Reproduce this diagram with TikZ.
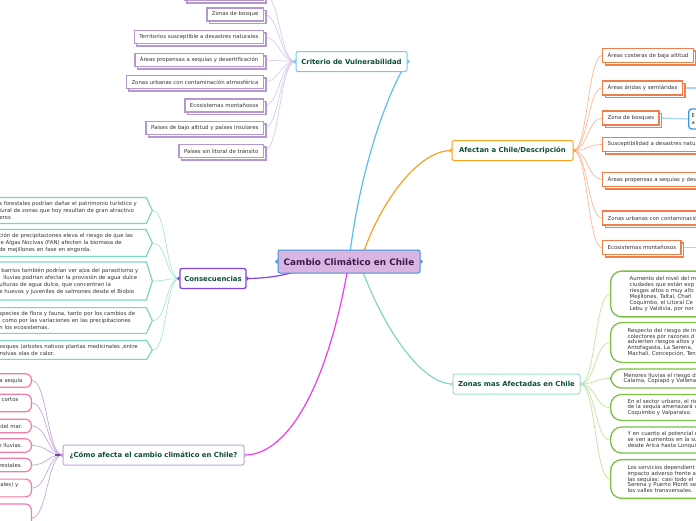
\documentclass[tikz,border=0pt]{standalone}
\usepackage{fontspec}
\setmainfont{DejaVu Sans}
\usetikzlibrary{shadows,shapes.symbols,backgrounds}

\definecolor{hubfill}{HTML}{D9B6E1}
\definecolor{hubline}{HTML}{3F92D8}
\definecolor{hubtext}{HTML}{3A1B4C}
\definecolor{headtext}{HTML}{0D4B3A}
\definecolor{leaftext}{HTML}{363636}
\definecolor{critline}{HTML}{5CC0EB}
\definecolor{critbox}{HTML}{72C9EC}
\definecolor{afecline}{HTML}{F7A21F}
\definecolor{conseline}{HTML}{7F45E2}
\definecolor{comoline}{HTML}{EC3CEF}
\definecolor{comobox}{HTML}{C4A5DB}
\definecolor{zonaline}{HTML}{85D5C7}
\definecolor{zonabox}{HTML}{A2DFD5}
\definecolor{leafpurple}{HTML}{B797D1}
\definecolor{twigpurple}{HTML}{DACBEA}
\definecolor{leaforange}{HTML}{F07D4C}
\definecolor{twigorange}{HTML}{F9B899}
\definecolor{leafblue}{HTML}{3A9BDC}
\definecolor{twigblue}{HTML}{A9D9F2}
\definecolor{leafteal}{HTML}{7ED3C5}
\definecolor{twigteal}{HTML}{AEE3DA}
\definecolor{leafpink}{HTML}{F27BA9}
\definecolor{twigpink}{HTML}{C6A8DD}
\definecolor{stubpurple}{HTML}{7A3E9E}
\definecolor{leafgreen}{HTML}{7BC143}
\definecolor{twiggreen}{HTML}{C2E2A1}

\tikzset{
  hub/.style={draw=hubline, fill=hubfill, line width=1pt, rounded corners=2pt,
    text=hubtext, font=\bfseries\fontsize{8.9}{10}\selectfont,
    minimum width=142pt, minimum height=23pt},
  head/.style={draw=#1, fill=white, line width=1pt, rounded corners=2pt,
    text=headtext, font=\bfseries\fontsize{6.9}{8}\selectfont,
    minimum height=20pt, inner xsep=4pt},
  limb/.style={draw=#1, line width=1.2pt},
  twig/.style={draw=#1, line width=0.7pt},
  boxleaf/.style={draw=#1, fill=white, line width=1.2pt, text=leaftext,
    font=\fontsize{5.4}{6.5}\selectfont, minimum height=13pt, inner xsep=5pt,
    inner ysep=1pt,
    copy shadow={shadow xshift=2.5pt, shadow yshift=-2.5pt, draw=#1, fill=white}},
  arrowleaf/.style={shape=signal, signal to=east, signal pointer angle=130,
    draw=leafteal, fill=white, line width=1.2pt, text=leaftext,
    font=\fontsize{5.4}{7}\selectfont, text width=145pt, align=left,
    inner xsep=2pt, inner ysep=3.8pt},
  pillleaf/.style={draw=leafpink, fill=white, line width=1.2pt,
    rounded corners=6pt, text=leaftext, font=\fontsize{5.4}{7}\selectfont,
    text width=60pt, align=right, inner xsep=9pt, minimum height=13.5pt},
  roundleaf/.style={draw=leafgreen, fill=white, line width=1.3pt,
    rounded corners=11pt, text=leaftext, font=\fontsize{5.4}{5.9}\selectfont,
    text width=110pt, align=left, inner xsep=17pt, inner ysep=5.5pt},
  bluebox/.style={draw=leafblue, fill=white, line width=1.3pt,
    rounded corners=3pt, text=leaftext, font=\fontsize{5.4}{7}\selectfont,
    text width=30pt, align=left, inner xsep=3pt, minimum height=20pt}
}

% little pointers on the sides of a topic box
\newcommand{\sidetabs}[2]{%
  \fill[#2] (#1.west) ++(0,-2.5) -- ++(-2.5,2.5) -- ++(2.5,2.5) -- cycle;
  \fill[#2] (#1.east) ++(0,-2.5) -- ++(2.5,2.5) -- ++(-2.5,2.5) -- cycle;}

\begin{document}
\begin{tikzpicture}[x=1pt, y=-1pt, >=stealth]
\useasboundingbox (0,0) rectangle (696,520);

% centre and main topics
\node[hub] (hub) at (349,261.5) {Cambio Climático en Chile};
\node[head=critbox, minimum width=111pt] (crit) at (351.5,61.5) {Criterio de Vulnerabilidad};
\node[head=afecline, minimum width=121pt] (afec) at (512.5,150.5) {Afectan a Chile/Descripción};
\node[head=conseline, line width=1.3pt, minimum width=66pt] (conse) at (213,278.5) {Consecuencias};
\node[head=comobox, minimum width=181pt] (como) at (153.5,455) {¿Cómo afecta el cambio climático en Chile?};
\node[head=zonabox, minimum width=127pt] (zonas) at (516.5,384) {Zonas mas Afectadas en Chile};

\sidetabs{hub}{hubline}
\sidetabs{crit}{critbox}
\sidetabs{afec}{afecline}
\sidetabs{conse}{conseline}
\sidetabs{como}{comobox}
\sidetabs{zonas}{zonabox}

% vulnerability criteria
\node[boxleaf=leafpurple, anchor=east, minimum width=79pt] (v0) at (264,-6) {};
\foreach \n/\yy/\txt in {v1/14.5/{Zonas de bosque},
    v2/37/{Territorios susceptible a desastres naturales},
    v3/60/{Áreas propensas a sequías y desertificación},
    v4/82/{Zonas urbanas con contaminación atmosférica},
    v5/105.5/{Ecosistemas montañosos},
    v6/128/{Países de bajo altitud y países insulares},
    v7/151/{Países sin litoral de tránsito}}
  \node[boxleaf=leafpurple, anchor=east] (\n) at (264,\yy) {\txt};

% description for Chile
\foreach \n/\yy/\txt in {a1/55.5/{Áreas costeras de baja altitud},
    a2/88/{Áreas áridas y semiáridas},
    a3/118/{Zona de bosques},
    a4/144.5/{Susceptibilidad a desastres naturales},
    a5/179.5/{Áreas propensas a sequías y desertificación},
    a6/218/{Zonas urbanas con contaminación atmosférica},
    a7/247.5/{Ecosistemas montañosos}}
  \node[boxleaf=leaforange, line width=1.4pt, anchor=west, minimum height=14pt] (\n) at (602,\yy) {\txt};
\node[bluebox, anchor=west] (b3) at (688,119) {E\\a};
\coordinate (a2end) at (696,88);
\coordinate (a7end) at (696,247.5);

% consequences
\node[arrowleaf, anchor=east] (c1) at (153,210.5)
  {s forestales podrían dañar el patrimonio turístico y\\tural de zonas que hoy resultan de gran atractivo\\eros};
\node[arrowleaf, anchor=east] (c2) at (153,243)
  {ción de precipitaciones eleva el riesgo de que las\\le Algas Nocivas (FAN) afecten la biomasa de\\de mejillones en fase en engorda.};
\node[arrowleaf, anchor=east, signal pointer angle=145, minimum height=38pt] (c3) at (153,281)
  {\hspace*{2pt}barrios también podrían ver alza del parasitismo y\\\hspace*{4pt}lluvias podrían afectar la provisión de agua dulce\\ulturas de agua dulce, que concentran la\\e huevos y juveniles de salmones desde el Biobio};
\node[arrowleaf, anchor=east] (c4) at (153,320.5)
  {species de flora y fauna, tanto por los cambios de\\\hspace*{3pt}como por las variaciones en las precipitaciones\\n los ecosistemas.};
\node[arrowleaf, anchor=east, signal pointer angle=118] (c5) at (153,350)
  {osques (arboles nativos plantas medicinales ,entre\\nsivas olas de calor.};

% how it affects Chile
\foreach \n/\yy/\txt in {p1/380.5/{a sequía},
    p2/403/{cortos\kern4pt\\\mbox{}},
    p3/426/{del mar.},
    p4/445.5/{e lluvias.},
    p5/465/{restales.},
    p6/488/{ales) y\kern4pt\\\mbox{}}}
  \node[pillleaf, anchor=east] (\n) at (32,\yy) {\txt};
\node[pillleaf, anchor=east, minimum height=28pt] (p7) at (32,518) {};

% most affected zones
\node[roundleaf, anchor=west, inner xsep=19pt] (g1) at (610,294)
  {Aumento del nivel del m\\ciudades que están exp\\riesgos altos o muy altc\\Mejillones, Taltal, Chañ\\Coquimbo, el Litoral Ce\\Lebu y Valdivia, por nor};
\node[roundleaf, anchor=west] (g2) at (610,342.5)
  {Respecto del riesgo de in\\colectores por razones d\\advierten riesgos altos y\\Antofagasta, La Serena,\\Machalí, Concepción, Ten};
\node[roundleaf, anchor=west, inner xsep=13pt, inner ysep=4pt] (g3) at (610,378.5)
  {Menores lluvias el riesgo d\\Calama, Copiapó y Vallena};
\node[roundleaf, anchor=west, inner ysep=4.5pt] (g4) at (610,407.5)
  {En el sector urbano, el rie\\de la sequía amenazará a\\Coquimbo y Valparaíso.};
\node[roundleaf, anchor=west, inner ysep=4.5pt] (g5) at (610,440)
  {Y en cuanto al potencial e\\se ven aumentos en la su\\desde Arica hasta Lonquil};
\node[roundleaf, anchor=west] (g6) at (610,479)
  {Los servicios dependient\\impacto adverso frente a\\las sequías: casi todo el\\Serena y Puerto Montt se\\los valles transversales.};

% connectors
\begin{scope}[on background layer]
\fill[white] (0,0) rectangle (696,520);
\draw[limb=critline] (hub.center) .. controls +(10,-90) and +(-20,30) .. (crit.east);
\draw[limb=afecline] ([xshift=12pt]hub.center) .. controls +(10,-40) and +(-40,0) .. (afec.west);
\draw[limb=conseline] ([xshift=-30pt]hub.center) .. controls +(-20,12) and +(25,0) .. (conse.east);
\draw[limb=comoline] (hub.center) .. controls +(-20,120) and +(45,0) .. (como.east);
\draw[limb=zonaline] ([xshift=10pt]hub.center) .. controls +(25,70) and +(-30,0) .. (zonas.west);
\foreach \i in {0,...,7}
  \draw[twig=twigpurple] (crit.west) .. controls +(-16,0) and +(16,0) .. (v\i.east);
\foreach \i in {1,...,7}
  \draw[twig=twigorange] (afec.east) .. controls +(14,0) and +(-14,0) .. (a\i.west);
\foreach \i in {1,...,5}
  \draw[twig=twigteal] (conse.west) .. controls +(-14,0) and +(14,0) .. (c\i.east);
\foreach \i in {1,...,7}
  \draw[twig=twigpink] (como.west) .. controls +(-15,0) and +(15,0) .. (p\i.east);
\draw[stubpurple, line width=1.5pt] ([xshift=-8pt]como.west) -- (como.west);
\foreach \i in {1,...,6}
  \draw[twig=twiggreen] (zonas.east) .. controls +(15,0) and +(-15,0) .. (g\i.west);
\draw[twig=twigblue, line width=1.3pt] (a2.east) -- (a2end);
\draw[twig=twigblue, line width=1.3pt] (a3.east) -- (b3.west);
\draw[twig=twigblue, line width=1.3pt] (a7.east) -- (a7end);
\end{scope}
\end{tikzpicture}
\end{document}
